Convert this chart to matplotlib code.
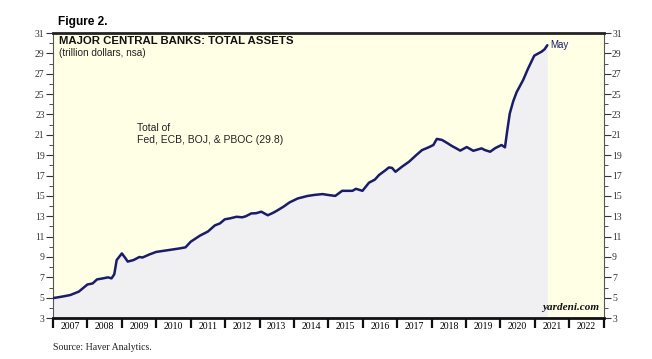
import matplotlib
matplotlib.use("Agg")
import matplotlib.pyplot as plt
from matplotlib.ticker import FixedLocator, MultipleLocator, NullFormatter

# Total assets of Fed, ECB, BOJ & PBOC (trillion dollars)
years = [2007.0, 2007.25, 2007.5, 2007.75, 2008.0, 2008.15, 2008.28, 2008.45,
         2008.6, 2008.7, 2008.78, 2008.85, 2009.0, 2009.1, 2009.17, 2009.34,
         2009.51, 2009.6, 2009.8, 2010.0, 2010.2, 2010.4, 2010.69, 2010.85,
         2011.0, 2011.27, 2011.5, 2011.7, 2011.85, 2011.99, 2012.15, 2012.33,
         2012.5, 2012.6, 2012.76, 2012.9, 2013.05, 2013.24, 2013.4, 2013.53,
         2013.7, 2013.87, 2014.11, 2014.4, 2014.6, 2014.83, 2015.02, 2015.2,
         2015.4, 2015.7, 2015.8, 2015.99, 2016.18, 2016.35, 2016.47, 2016.65,
         2016.76, 2016.85, 2016.95, 2017.15, 2017.34, 2017.55, 2017.72,
         2017.91, 2018.05, 2018.15, 2018.3, 2018.45, 2018.59, 2018.7, 2018.83,
         2019.02, 2019.21, 2019.45, 2019.55, 2019.7, 2019.85, 2020.03, 2020.13,
         2020.2, 2020.27, 2020.37, 2020.47, 2020.55, 2020.66, 2020.8, 2020.98,
         2021.1, 2021.19, 2021.28, 2021.36]
assets = [4.96, 5.1, 5.26, 5.6, 6.3, 6.4, 6.8, 6.9,
          7.0, 6.9, 7.3, 8.7, 9.35, 8.9, 8.55, 8.7,
          9.0, 8.95, 9.25, 9.5, 9.6, 9.7, 9.85, 9.95,
          10.5, 11.1, 11.5, 12.1, 12.3, 12.7, 12.8, 12.95,
          12.9, 13.0, 13.28, 13.3, 13.45, 13.1, 13.35, 13.6,
          13.95, 14.36, 14.75, 15.0, 15.1, 15.18, 15.08, 15.0,
          15.5, 15.5, 15.7, 15.5, 16.3, 16.6, 17.05, 17.5,
          17.8, 17.75, 17.37, 17.9, 18.35, 19.0, 19.5,
          19.77, 20.0, 20.6, 20.5, 20.2, 19.9, 19.7, 19.45,
          19.8, 19.43, 19.67, 19.5, 19.34, 19.7, 20.0, 19.77,
          21.5, 23.1, 24.3, 25.2, 25.7, 26.4, 27.5, 28.77,
          29.0, 29.16, 29.4, 29.8]

year_labels = [str(y) for y in range(2007, 2023)]
y_labels = list(range(3, 32, 2))

navy = "#1b1b6b"
serif = ["Liberation Serif", "DejaVu Serif"]
sans = ["Liberation Sans", "DejaVu Sans"]

fig = plt.figure(figsize=(6.52, 3.59), dpi=100)
ax = fig.add_axes([0.0813, 0.114, 0.8447, 0.794])
ax.set_facecolor("#ffffe6")

ax.fill_between(years, 3, assets, color="#f0f0f3", lw=0, zorder=1)
ax.plot(years, assets, color=navy, lw=1.8, zorder=3, solid_capstyle="round")

ax.set_xlim(2007, 2023)
ax.set_ylim(3, 31)

# y axes on both sides
ax.yaxis.set_major_locator(FixedLocator(y_labels))
ax.yaxis.set_minor_locator(MultipleLocator(1))
ax.tick_params(axis="y", which="major", direction="out", length=5, width=0.8,
               left=True, right=True, labelleft=True, labelright=True,
               labelsize=7, pad=1, colors="#333333")
ax.tick_params(axis="y", which="minor", direction="out", length=3, width=0.6,
               left=True, right=True, colors="#333333")
for lab in ax.get_yticklabels():
    lab.set_family(serif)

# x axis: ticks at year boundaries, labels centred in each year
ax.xaxis.set_major_locator(FixedLocator(range(2007, 2024)))
ax.xaxis.set_major_formatter(NullFormatter())
ax.xaxis.set_minor_locator(FixedLocator([y + 0.5 for y in range(2007, 2023)]))
ax.set_xticklabels(year_labels, minor=True)
ax.tick_params(axis="x", which="major", direction="out", length=7, width=1.6,
               color="#111111")
ax.tick_params(axis="x", which="minor", length=0, labelsize=7, pad=3)
for lab in ax.get_xticklabels(minor=True):
    lab.set_family(serif)

ax.spines["top"].set_linewidth(2.0)
ax.spines["bottom"].set_linewidth(2.0)
ax.spines["top"].set_color("#222222")
ax.spines["bottom"].set_color("#111111")
ax.spines["left"].set_linewidth(0.8)
ax.spines["right"].set_linewidth(0.8)
ax.spines["left"].set_color("#555555")
ax.spines["right"].set_color("#555555")

fig.text(58 / 652, 1 - 22 / 359, "Figure 2.", fontsize=8.6, fontweight="bold",
         family=sans, va="center")
fig.text(59 / 652, 1 - 41 / 359, "MAJOR CENTRAL BANKS: TOTAL ASSETS",
         fontsize=8.2, fontweight="bold", family=sans, va="center",
         color="#111111")
fig.text(59 / 652, 1 - 53.5 / 359, "(trillion dollars, nsa)", fontsize=7.2,
         family=sans, va="center", color="#222222")
ax.text(2009.45, 21.1, "Total of\nFed, ECB, BOJ, & PBOC (29.8)", fontsize=7.5,
        family=sans, va="center", linespacing=1.25, color="#222222")
ax.text(years[-1] + 0.1, assets[-1], "May", fontsize=7, family=sans,
        color=navy, va="center")
ax.text(0.992, 0.02, "yardeni.com", transform=ax.transAxes, fontsize=8,
        family=serif, fontweight="bold", style="italic", ha="right",
        va="bottom", color="#111111")
fig.text(53 / 652, 1 - 348 / 359, "Source: Haver Analytics.", fontsize=7,
         family=serif, va="center", color="#222222")

fig.savefig("out.png", dpi=100)
